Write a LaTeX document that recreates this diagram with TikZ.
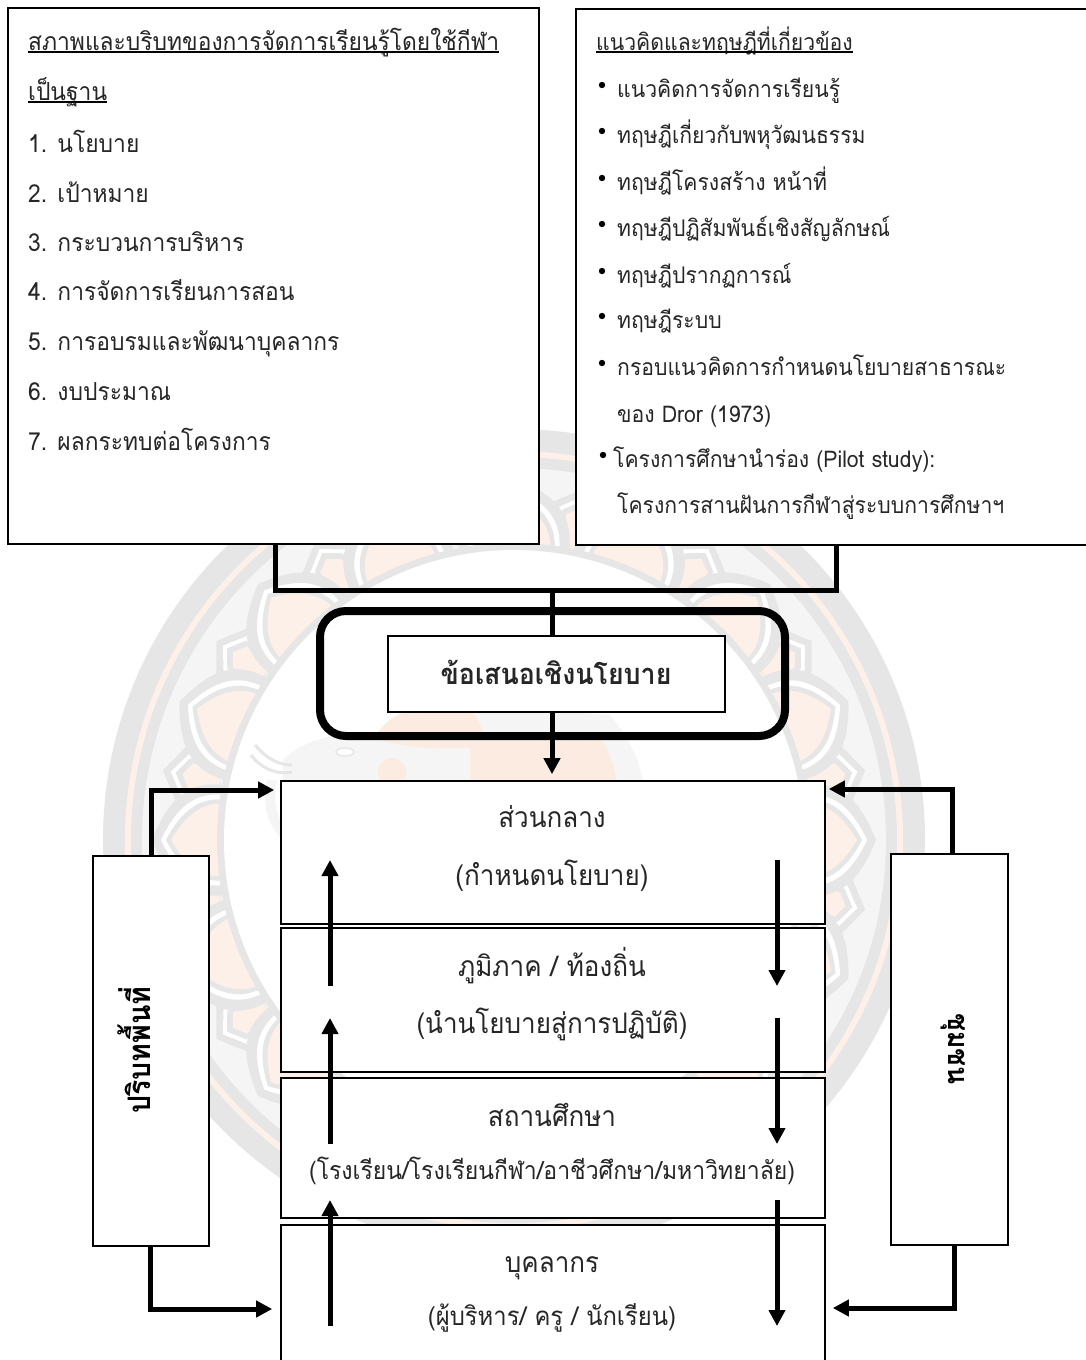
\documentclass[tikz,border=0pt]{standalone}
\usepackage{fontspec}
\setmainfont[Script=Thai,FakeStretch=0.92]{Loma}
\usetikzlibrary{arrows.meta,calc}
\definecolor{wmgray}{HTML}{E6E6E6}
\definecolor{wmlight}{HTML}{F5F5F5}
\definecolor{wmpeach}{HTML}{FDF0E8}
\definecolor{wmcloth}{HTML}{FCEBE0}
\newcommand{\fsA}{\fontsize{24.8}{28}\selectfont}
\newcommand{\fsB}{\fontsize{23}{25}\selectfont}
\newcommand{\fsC}{\fontsize{28.3}{30}\selectfont}
\newcommand{\petal}[4]{\fill[#4] (#1-#2:288) .. controls (#1-#2:#3-30) and (#1-#2*0.62:#3-14) .. (#1:#3) .. controls (#1+#2*0.62:#3-14) and (#1+#2:#3-30) .. (#1+#2:288) -- cycle;}
\tikzset{
  boxA/.style={draw=black,fill=white,line width=2pt,inner sep=0pt,anchor=center},
  boxC/.style={draw=black,fill=white,line width=1.6pt,inner sep=0pt,anchor=center},
  txt/.style={inner sep=0pt,anchor=base west,text=black!85},
  ctr/.style={inner sep=0pt,anchor=base,text=black!85},
  wire/.style={line width=5pt,line cap=butt,line join=miter},
  arr/.style={line width=5pt,-{Triangle[length=16pt,width=16pt]}},
  ul/.style={line width=1.5pt,black},
  dotb/.style={fill=black}
}
\begin{document}
\begin{tikzpicture}[x=1pt,y=-1pt]
\useasboundingbox (0,0) rectangle (1086,1360);
\fill[white] (0,0) rectangle (1086,1360);
% watermark
\begin{scope}[shift={(514,840)}]
  \fill[wmgray] (0,0) circle (411);
  \fill[wmpeach] (0,0) circle (389);
  \fill[wmgray] (0,0) circle (383);
  \fill[wmlight] (0,0) circle (372);
  \foreach \a in {11.25,33.75,...,348.75}{
    \fill[wmgray] (\a-5.5:300) -- (\a-5.5:338) -- (\a:358) -- (\a+5.5:338) -- (\a+5.5:300) -- cycle;
    \fill[white] (\a-3.6:300) -- (\a-3.6:336) -- (\a:350) -- (\a+3.6:336) -- (\a+3.6:300) -- cycle;
    \fill[wmgray] (\a-2.9:300) -- (\a-2.9:334) -- (\a:345) -- (\a+2.9:334) -- (\a+2.9:300) -- cycle;
    \fill[wmpeach] (\a-2.2:300) -- (\a-2.2:330) -- (\a:338) -- (\a+2.2:330) -- (\a+2.2:300) -- cycle;
  }
  \foreach \a in {0,22.5,...,337.5}{
    \petal{\a}{10.8}{362}{wmgray}
    \petal{\a}{8.9}{353}{white}
    \petal{\a}{8.0}{348}{wmgray}
    \petal{\a}{7.2}{343}{wmpeach}
  }
  \fill[wmgray] (0,0) circle (297);
  \fill[white] (0,0) circle (290);
\end{scope}
% elephant
\fill[wmlight] (283,760) .. controls (300,742) and (340,728) .. (375,738) .. controls (385,715) and (420,700) .. (470,705) -- (610,715) .. controls (630,740) and (640,760) .. (645,790) -- (283,790) -- cycle;
\fill[wmcloth] (375,738) .. controls (385,715) and (420,700) .. (470,705) -- (490,745) .. controls (450,750) and (410,750) .. (375,738) -- cycle;
\fill[wmcloth] (470,738) -- (600,738) .. controls (612,755) and (615,770) .. (617,790) -- (470,790) -- cycle;
\fill[wmcloth] (392,772) circle (14);
\fill[white] (345,752) ellipse (8 and 3);
\draw[wmgray,line width=1.5pt] (345,752) ellipse (9 and 4);
\draw[wmgray,line width=3pt] (255,745) .. controls (268,760) and (280,765) .. (292,765);
\draw[wmgray,line width=3pt] (251,755) .. controls (262,770) and (280,775) .. (292,772);
\draw[wmlight,line width=10pt] (272,780) .. controls (268,800) and (270,820) .. (285,835);
% top boxes
\node[boxA,minimum width=531pt,minimum height=536pt] (topL) at (273.5,276) {};
\node[boxA,minimum width=520pt,minimum height=536pt] (topR) at (836,277) {};
% left list
\node[txt,font=\fsA] (h1) at (28,50) {สภาพและบริบทของการจัดการเรียนรู้โดยใช้กีฬา};
\node[txt,font=\fsA] (h2) at (28,100) {เป็นฐาน};
\draw[ul] ([yshift=-2pt]h1.base west) -- ([yshift=-2pt]h1.base east);
\draw[ul] ([yshift=-2pt]h2.base west) -- ([yshift=-2pt]h2.base east);
\node[txt,font=\fsA] (l1) at (28,152) {1. นโยบาย};
\node[txt,font=\fsA] (l2) at (28,202) {2. เป้าหมาย};
\node[txt,font=\fsA] (l3) at (28,251) {3. กระบวนการบริหาร};
\node[txt,font=\fsA] (l4) at (28,300) {4. การจัดการเรียนการสอน};
\node[txt,font=\fsA] (l5) at (28,350) {5. การอบรมและพัฒนาบุคลากร};
\node[txt,font=\fsA] (l6) at (28,400) {6. งบประมาณ};
\node[txt,font=\fsA] (l7) at (28,450) {7. ผลกระทบต่อโครงการ};
% right list
\node[txt,font=\fsB] (rh) at (596,50) {แนวคิดและทฤษฎีที่เกี่ยวข้อง};
\draw[ul] ([yshift=-2pt]rh.base west) -- ([yshift=-2pt]rh.base east);
\foreach \n/\y/\t in {r1/97/แนวคิดการจัดการเรียนรู้,r2/143/ทฤษฎีเกี่ยวกับพหุวัฒนธรรม,r3/190/ทฤษฎีโครงสร้าง หน้าที่,r4/236/ทฤษฎีปฏิสัมพันธ์เชิงสัญลักษณ์,r5/283/ทฤษฎีปรากฏการณ์,r6/328/ทฤษฎีระบบ,r7/375/กรอบแนวคิดการกำหนดนโยบายสาธารณะ}{
  \node[txt,font=\fsB] (\n) at (617,\y) {\t};
  \fill[dotb] (602,\y-12) circle (3.2);
}
\node[txt,font=\fsB] (r8) at (617,422) {ของ Dror (1973)};
\node[txt,font=\fsB] (r9) at (613,467) {โครงการศึกษานำร่อง (Pilot study):};
\fill[dotb] (603,455) circle (3.2);
\node[txt,font=\fsB] (r10) at (617,513) {โครงการสานฝันการกีฬาสู่ระบบการศึกษาฯ};
% junction
\coordinate (jl) at (275,590);
\coordinate (jr) at (836,590);
\coordinate (jm) at (552,590);
\draw[wire] (topL.south -| jl) -- (jl) -- (jr) -- (topR.south -| jr);
% policy
\node[boxA,minimum width=337pt,minimum height=76pt,fill=white] (pol) at (556.5,674) {};
\node[ctr,font=\fontsize{29.1}{32}\selectfont\bfseries] (polt) at (556,684) {ข้อเสนอเชิงนโยบาย};
\draw[wire] (jm) -- (pol.north -| jm);
\node[draw=black,line width=8pt,rounded corners=26pt,minimum width=465pt,minimum height=125pt,inner sep=0pt] (frame) at (552.5,673.5) {};
% levels
\node[boxC,minimum width=544pt,minimum height=143pt] (c1) at (553,852.5) {};
\node[boxC,minimum width=544pt,minimum height=144pt] (c2) at (553,1000) {};
\node[boxC,minimum width=544pt,minimum height=140pt] (c3) at (553,1148) {};
\node[boxC,minimum width=544pt,minimum height=160pt] (c4) at (553,1305) {};
\draw[arr] (pol.south -| jm) -- ($(c1.north -| jm)+(0,-6)$);
\node[ctr,font=\fsC] (t1a) at (552,827) {ส่วนกลาง};
\node[ctr,font=\fsC] (t1b) at (552,885) {(กำหนดนโยบาย)};
\node[ctr,font=\fsC] (t2a) at (552,976) {ภูมิภาค / ท้องถิ่น};
\node[ctr,font=\fsC] (t2b) at (552,1033) {(นำนโยบายสู่การปฏิบัติ)};
\node[ctr,font=\fsC] (t3a) at (552,1126) {สถานศึกษา};
\node[ctr,font=\fontsize{25}{28}\selectfont] (t3b) at (552,1179) {(โรงเรียน/โรงเรียนกีฬา/อาชีวศึกษา/มหาวิทยาลัย)};
\node[ctr,font=\fsC] (t4a) at (552,1272) {บุคลากร};
\node[ctr,font=\fontsize{25.9}{28}\selectfont] (t4b) at (552,1325) {(ผู้บริหาร/ ครู / นักเรียน)};
% up/down arrows
\foreach \t/\h in {986/860,1144/1018,1326/1200}{
  \coordinate (ua) at (330,\t); \coordinate (ub) at (330,\h);
  \draw[arr] (ua) -- (ub);
}
\foreach \t/\h in {860/986,1018/1144,1200/1326}{
  \coordinate (da) at (777,\t); \coordinate (db) at (777,\h);
  \draw[arr] (da) -- (db);
}
% side boxes
\node[boxA,minimum width=116pt,minimum height=390pt] (ctx) at (151,1051) {};
\node[boxA,minimum width=117pt,minimum height=391pt] (com) at (949.5,1049.5) {};
\node[inner sep=0pt,rotate=90,font=\fontsize{31}{34}\selectfont\bfseries] (ctxt) at (134,1050) {ปริบทพื้นที่};
\node[inner sep=0pt,rotate=-90,font=\fontsize{28.8}{32}\selectfont\bfseries] (comt) at (953,1049) {ชุมชน};
% side connectors
\coordinate (a1) at (151,790);
\coordinate (a2) at (150,1309);
\coordinate (a3) at (952,789);
\coordinate (a4) at (954,1308);
\draw[wire,-{Triangle[length=16pt,width=16pt]}] (ctx.north -| a1) -- (a1) -- ($(c1.west |- a1)+(-6,0)$);
\draw[wire,-{Triangle[length=16pt,width=16pt]}] (ctx.south -| a2) -- (a2) -- ($(c4.west |- a2)+(-8,0)$);
\draw[wire,-{Triangle[length=16pt,width=16pt]}] (com.north -| a3) -- (a3) -- ($(c1.east |- a3)+(3,0)$);
\draw[wire,-{Triangle[length=16pt,width=16pt]}] (com.south -| a4) -- (a4) -- ($(c4.east |- a4)+(7,0)$);
\end{tikzpicture}
\end{document}
